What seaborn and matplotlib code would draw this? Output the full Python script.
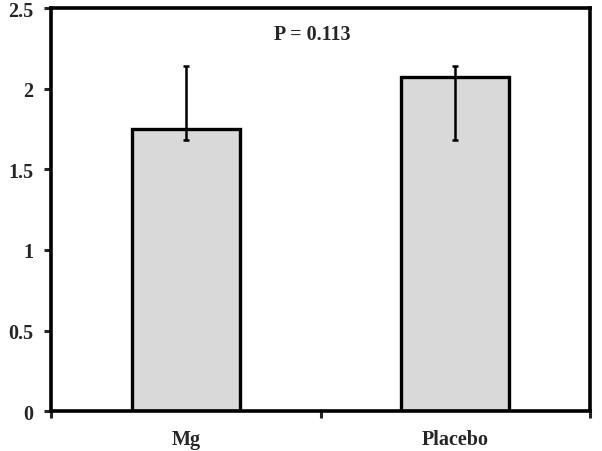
import matplotlib
matplotlib.use("Agg")
import matplotlib.pyplot as plt
import seaborn as sns
import numpy as np
import pandas as pd

categories = ["Mg", "Placebo"]
means = [1.75, 2.07]
err_low = [1.68, 1.68]
err_high = [2.14, 2.14]
y_ticks = [0, 0.5, 1, 1.5, 2, 2.5]
y_tick_labels = ["0", "0.5", "1", "1.5", "2", "2.5"]
annotation = "P = 0.113"

sns.set_style("white")
plt.rcParams["font.family"] = ["Liberation Serif", "DejaVu Serif"]
plt.rcParams["font.weight"] = "bold"

FS = 14.5

fig = plt.figure(figsize=(6.02, 4.52), dpi=100)
ax = fig.add_axes([0.085, 0.088, 0.895, 0.892])

df = pd.DataFrame({"cat": categories, "val": means})
sns.barplot(data=df, x="cat", y="val", ax=ax, color="#d9d9d9", width=0.4,
            edgecolor="black", linewidth=2.4, saturation=1)

x = np.arange(len(categories))
m = np.array(means)
yerr = np.vstack([m - np.array(err_low), np.array(err_high) - m])
ax.errorbar(x, m, yerr=yerr, fmt="none", ecolor="black", elinewidth=1.8,
            capsize=2.5, capthick=1.8)

ax.set_xlim(-0.5, 1.5)
ax.set_ylim(0, 2.5)
ax.set_yticks(y_ticks)
ax.set_yticklabels(y_tick_labels, fontsize=FS, fontweight="bold")
ax.set_xticks([-0.5, 0.5, 1.5])
ax.set_xticklabels(["", "", ""])
ax.set_xticks(x, minor=True)
ax.set_xticklabels(categories, minor=True, fontsize=FS, fontweight="bold")
ax.tick_params(axis="x", which="minor", length=0, pad=13)
ax.tick_params(axis="x", which="major", direction="out", length=5, width=2.2, bottom=True)
ax.tick_params(axis="y", direction="out", length=5, width=2.2, left=True, pad=8)
ax.set_xlabel("")
ax.set_ylabel("")

for s in ax.spines.values():
    s.set_linewidth(2.6)
    s.set_color("black")

ax.text(0.47, 2.34, annotation, ha="center", va="center", fontsize=FS, fontweight="bold")

fig.savefig("out.png", dpi=100)
